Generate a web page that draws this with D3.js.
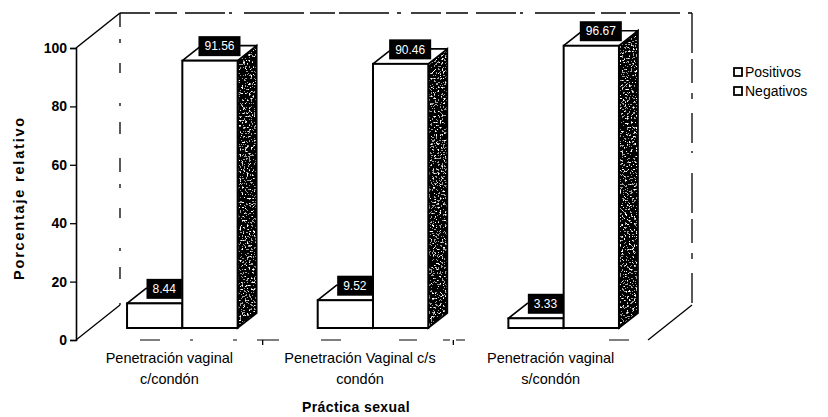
<!DOCTYPE html>
<html>
<head>
<meta charset="utf-8">
<script src="https://cdn.jsdelivr.net/npm/d3@7"></script>
<style>
  html, body { margin: 0; padding: 0; background: #fff; }
  svg { display: block; font-family: "Liberation Sans", Arial, sans-serif; }
</style>
</head>
<body>
<svg id="chart" width="828" height="417"></svg>
<script>
// Data
const categories = [
  "Penetración vaginal c/condón",
  "Penetración Vaginal c/s condón",
  "Penetración vaginal s/condón"
];
const categoryLines = [
  ["Penetración vaginal", "c/condón"],
  ["Penetración Vaginal c/s", "condón"],
  ["Penetración vaginal", "s/condón"]
];
const series = ["Positivos", "Negativos"];
const positivos = [8.44, 9.52, 3.33];
const negativos = [91.56, 90.46, 96.67];
const yTicks = [0, 20, 40, 60, 80, 100];

const svg = d3.select("#chart");

// Stippled texture for the shaded side faces of the columns
const defs = svg.append("defs");
const f = defs.append("filter").attr("id", "stipple")
  .attr("x", 0).attr("y", 0).attr("width", 1).attr("height", 1);
f.append("feTurbulence").attr("type", "fractalNoise")
  .attr("baseFrequency", 0.55).attr("numOctaves", 2).attr("seed", 5).attr("result", "noise");
f.append("feColorMatrix").attr("in", "noise").attr("type", "matrix")
  .attr("values", "1 0 0 0 0  1 0 0 0 0  1 0 0 0 0  0 0 0 0 1").attr("result", "gray");
const ct = f.append("feComponentTransfer").attr("in", "gray").attr("result", "bw");
["feFuncR", "feFuncG", "feFuncB"].forEach(k =>
  ct.append(k).attr("type", "discrete").attr("tableValues", "0 0 0 0 0 0 0.35 1 1 1"));
f.append("feComposite").attr("in", "bw").attr("in2", "SourceGraphic").attr("operator", "in");

// Frame geometry (oblique 3D box)
const left = 76, right = 648;
const y = d3.scaleLinear().domain([0, 100]).range([340, 48]);
const depth = [44, -35];          // floor/back wall depth vector
const barOff = [11, -12];         // columns sit partway back on the floor
const barDepth = [19, -15];       // depth of each column

const xCat = d3.scaleBand().domain(categories).range([left, right]);
const barW = xCat.bandwidth() * 0.29;
const xSer = d3.scaleBand().domain(series).range([-barW, barW]);

const frame = svg.append("g").attr("fill", "none").attr("stroke", "#000");
const bx = left + depth[0], by0 = y(0) + depth[1], by1 = y(100) + depth[1];
const rx = right + depth[0];
// back wall
frame.append("line").attr("x1", bx).attr("y1", by1).attr("x2", rx).attr("y2", by1)
  .attr("stroke-width", 1.6).attr("stroke-dasharray", "30 5 22 8 40 4 3 12 60 6 25 4 50 8 4 10");
frame.append("line").attr("x1", bx).attr("y1", by1).attr("x2", bx).attr("y2", by0)
  .attr("stroke-width", 1.3).attr("stroke-dasharray", "14 12 4 20 10 30 3 16 12 24");
frame.append("line").attr("x1", rx).attr("y1", by1).attr("x2", rx).attr("y2", by0)
  .attr("stroke-width", 1.3).attr("stroke-dasharray", "40 6 24 10 6 14 30 8 2 20");
// side walls
frame.append("line").attr("x1", left).attr("y1", y(100)).attr("x2", bx).attr("y2", by1).attr("stroke-width", 1.5);
frame.append("line").attr("x1", left).attr("y1", y(0)).attr("x2", bx).attr("y2", by0).attr("stroke-width", 1.3);
frame.append("line").attr("x1", right).attr("y1", y(0)).attr("x2", rx).attr("y2", by0).attr("stroke-width", 1.3);
// floor front edge
frame.append("line").attr("x1", left).attr("y1", y(0)).attr("x2", right).attr("y2", y(0))
  .attr("stroke-width", 1.2).attr("stroke-dasharray", "0 64 20 30 3 40 4 20 22 42 20 58 18 26 7 6 9 80");

// Value axis
const yAxis = d3.axisLeft(y).tickValues(yTicks).tickSize(6).tickPadding(3).tickFormat(d3.format("d"));
const ya = svg.append("g").attr("transform", `translate(${left},0)`).call(yAxis);
ya.select(".domain").attr("stroke", "#000").attr("stroke-width", 1.6);
ya.selectAll(".tick line").attr("stroke", "#000").attr("stroke-width", 1.3);
ya.selectAll(".tick text").attr("fill", "#000").attr("font-size", 14).attr("font-weight", "bold")
  .attr("font-family", "Liberation Sans, Arial, sans-serif");

// Category axis tick marks at band boundaries
svg.append("g").selectAll("line").data(categories.slice(1)).join("line")
  .attr("x1", d => xCat(d) - 4).attr("x2", d => xCat(d) - 4)
  .attr("y1", y(0)).attr("y2", y(0) + 5).attr("stroke", "#000").attr("stroke-width", 1.3);

// Columns
const rows = categories.map((c, i) => ({ c, i, vals: [positivos[i], negativos[i]] }));
const bars = [];
rows.forEach(r => {
  series.forEach((s, j) => {
    const v = r.vals[j];
    const fx = xCat(r.c) + xCat.bandwidth() / 2 + xSer(s) + barOff[0];
    const w = xSer.bandwidth();
    const yb = y(0) + barOff[1];
    const yt = y(v) + barOff[1];
    bars.push({ s, v, fx, w, yb, yt });
  });
});
const pts = a => a.map(p => p.join(",")).join(" ");
const bg = svg.append("g");
bars.forEach(b => {
  const g = bg.append("g");
  const side = [[b.fx + b.w, b.yt], [b.fx + b.w + barDepth[0], b.yt + barDepth[1]],
                [b.fx + b.w + barDepth[0], b.yb + barDepth[1]], [b.fx + b.w, b.yb]];
  g.append("polygon").attr("points", pts(side)).attr("fill", "#000").attr("filter", "url(#stipple)");
  g.append("polygon").attr("points", pts(side)).attr("fill", "none").attr("stroke", "#000").attr("stroke-width", 1.8);
  const top = [[b.fx, b.yt], [b.fx + b.w, b.yt], [b.fx + b.w + barDepth[0], b.yt + barDepth[1]],
               [b.fx + barDepth[0], b.yt + barDepth[1]]];
  g.append("polygon").attr("points", pts(top)).attr("fill", "#fff").attr("stroke", "#000")
    .attr("stroke-width", 1.6).attr("stroke-linejoin", "round");
  g.append("rect").attr("x", b.fx).attr("y", b.yt).attr("width", b.w).attr("height", b.yb - b.yt)
    .attr("fill", "#fff").attr("stroke", "#000").attr("stroke-width", 2);
});

// Value labels (white on black boxes)
const fmt = d3.format(".2f");
const lg = svg.append("g").attr("font-size", 12);
bars.forEach(b => {
  const cx = b.fx + b.w / 2 + barDepth[0] / 2;
  const cy = b.yt + barDepth[1] / 2 - 7;
  const t = lg.append("text").attr("x", cx).attr("y", cy).attr("dy", "0.35em")
    .attr("text-anchor", "middle").attr("fill", "#fff").text(fmt(b.v));
  const tw = t.node().getComputedTextLength();
  lg.insert("rect", () => t.node()).attr("x", cx - tw / 2 - 6).attr("y", cy - 10)
    .attr("width", tw + 12).attr("height", 20).attr("fill", "#000");
});

// Category labels
const cl = svg.append("g").attr("font-size", 14.5).attr("text-anchor", "middle").attr("fill", "#000");
categories.forEach((c, i) => {
  const t = cl.append("text").attr("x", xCat(c) + xCat.bandwidth() / 2 - 2).attr("y", 363);
  categoryLines[i].forEach((ln, k) => t.append("tspan")
    .attr("x", xCat(c) + xCat.bandwidth() / 2 - 2).attr("dy", k === 0 ? 0 : 21).text(ln));
});

// Axis titles
svg.append("text").attr("x", 356).attr("y", 412).attr("text-anchor", "middle")
  .attr("font-size", 14).attr("font-weight", "bold").attr("letter-spacing", 0.4).text("Práctica sexual");
svg.append("text").attr("transform", "translate(24,198) rotate(-90)").attr("text-anchor", "middle")
  .attr("font-size", 14.5).attr("font-weight", "bold").attr("letter-spacing", 1.8).text("Porcentaje relativo");

// Legend
const leg = svg.append("g").attr("transform", "translate(734,68)");
series.forEach((s, i) => {
  const g = leg.append("g").attr("transform", `translate(0,${i * 19})`);
  g.append("rect").attr("width", 8).attr("height", 8).attr("fill", "#fff")
    .attr("stroke", "#000").attr("stroke-width", 1.8);
  g.append("text").attr("x", 11).attr("y", 4).attr("dy", "0.35em").attr("font-size", 14).text(s);
});
</script>
</body>
</html>
